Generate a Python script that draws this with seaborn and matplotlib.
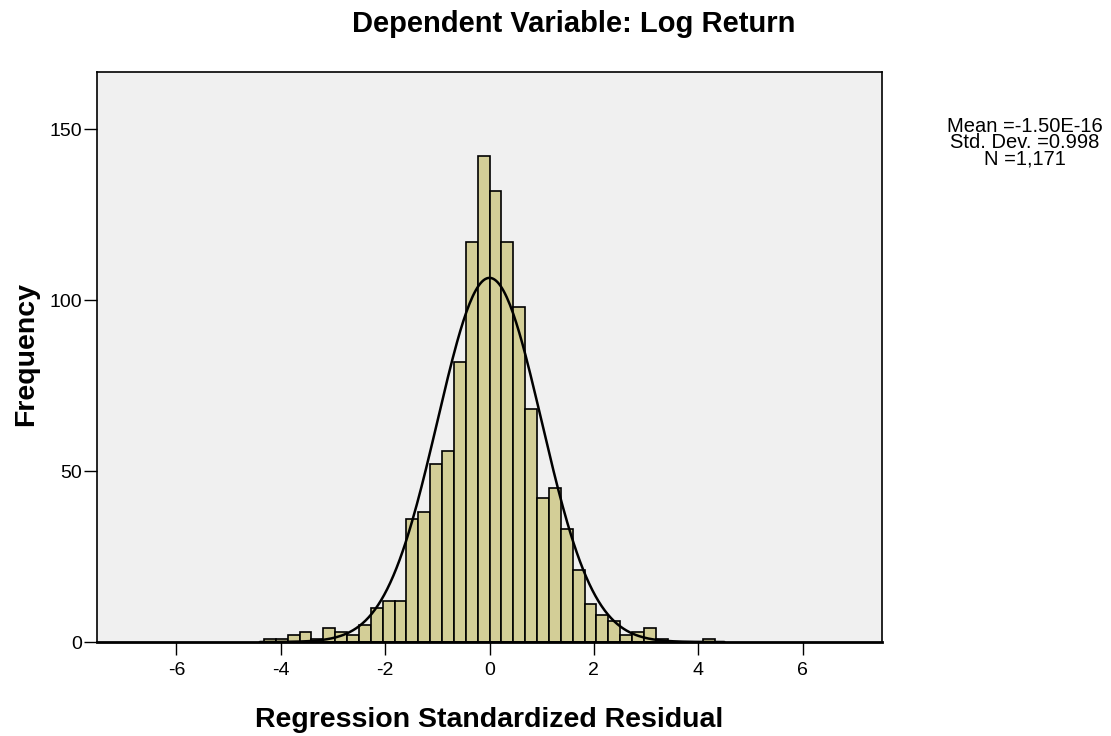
import numpy as np
import pandas as pd
import matplotlib
matplotlib.use("Agg")
import matplotlib.pyplot as plt
import seaborn as sns

sns.set_style("white")
plt.rcParams["font.family"] = ["Liberation Sans", "DejaVu Sans"]
plt.rcParams["axes.unicode_minus"] = False
plt.rcParams["text.color"] = "black"
plt.rcParams["axes.labelcolor"] = "black"
plt.rcParams["xtick.color"] = "black"
plt.rcParams["ytick.color"] = "black"

# histogram: bins of equal width starting at -19 widths
bin_width = 0.2275
first_bin = -19
counts = [1, 1, 2, 3, 1, 4, 3, 2, 5, 10, 12, 12,
          36, 38, 52, 56, 82, 117, 142, 132, 117, 98, 68, 42, 45, 33, 21,
          11, 8, 6, 2, 3, 4, 1, 0, 0, 0, 1]
mean_val = -1.50e-16
std_val = 0.998
n_obs = 1171

edges = (first_bin + np.arange(len(counts) + 1)) * bin_width
df = pd.DataFrame({"resid": (edges[:-1] + edges[1:]) / 2, "count": counts})

fig = plt.figure(figsize=(11.11, 7.36), dpi=100)
ax = fig.add_axes([0.0873, 0.1277, 0.7066, 0.7745])
ax.set_facecolor("#F0F0F0")

sns.histplot(data=df, x="resid", weights="count", binwidth=bin_width,
             binrange=(float(edges[0]), float(edges[-1])), color="#D3CE97",
             edgecolor="black", linewidth=1.2, alpha=1, ax=ax)

# fitted normal curve
xs = np.linspace(-4.4, 4.5, 300)
ys = n_obs * bin_width * np.exp(-0.5 * ((xs - mean_val) / std_val) ** 2) / (std_val * np.sqrt(2 * np.pi))
sns.lineplot(x=xs, y=ys, color="black", linewidth=1.8, ax=ax)

ax.set_xlim(-7.52, 7.52)
ax.set_ylim(0, 166.7)
ax.set_xticks([-6, -4, -2, 0, 2, 4, 6])
ax.set_yticks([0, 50, 100, 150])
ax.tick_params(axis="both", direction="out", length=9.5, width=1, labelsize=14,
               bottom=True, left=True, color="black", pad=1)
ax.tick_params(axis="x", pad=5)
for s in ax.spines.values():
    s.set_color("black")
    s.set_linewidth(1.2)
ax.spines["bottom"].set_linewidth(2)

ax.set_xlabel("Regression Standardized Residual", fontsize=20.5, fontweight="bold")
ax.set_ylabel("Frequency", fontsize=20.5, fontweight="bold")
ax.xaxis.set_label_coords(0.5, -0.114)
ax.yaxis.set_label_coords(-0.0738, 0.505)

fig.text(573.5 / 1111, 1 - 24 / 736, "Dependent Variable: Log Return",
         ha="center", va="center", fontsize=21, fontweight="bold")

fig.text(1024.7 / 1111, 0.841, "Mean =-1.50E-16\nStd. Dev. =0.998\nN =1,171",
         ha="center", va="top", fontsize=14.5, linespacing=0.83)

fig.savefig("out.png", dpi=100)
